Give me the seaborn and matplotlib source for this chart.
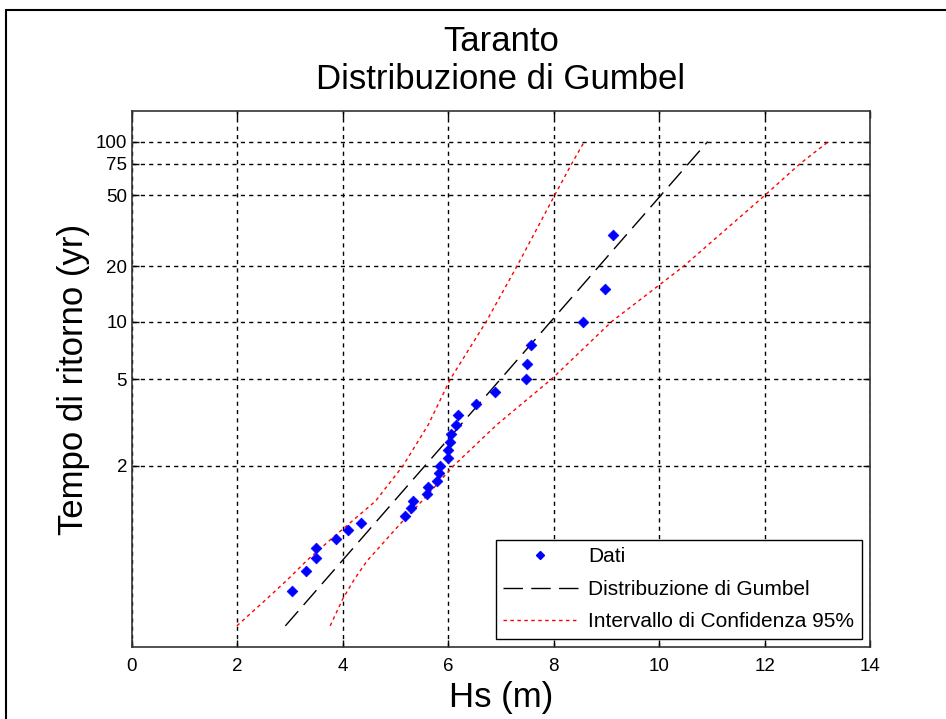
import numpy as np
import matplotlib
matplotlib.use("Agg")
import matplotlib.pyplot as plt
import seaborn as sns
from matplotlib.lines import Line2D
from matplotlib.ticker import FixedLocator, NullLocator

# observed maxima (Hs, m) and their return period (yr)
dati_hs = [9.13, 8.97, 8.55, 7.57, 7.50, 7.47, 6.89, 6.53, 6.18, 6.14,
           6.05, 6.04, 5.99, 5.99, 5.85, 5.82, 5.79, 5.61, 5.59, 5.34,
           5.29, 5.17, 4.35, 4.09, 3.87, 3.49, 3.49, 3.31, 3.03]
dati_T = [30, 15, 10, 7.5, 6, 5, 4.29, 3.75, 3.33, 3.0,
          2.73, 2.5, 2.31, 2.14, 2.0, 1.88, 1.76, 1.67, 1.58, 1.5,
          1.43, 1.36, 1.30, 1.25, 1.2, 1.15, 1.11, 1.07, 1.03]

# fitted Gumbel line (straight on the probability paper)
gumbel_T = [1.0037, 100]
gumbel_hs = [2.91, 10.92]

# 95% confidence band
ci_T = [1.0037, 1.02, 1.05, 1.1, 1.2, 1.3, 1.5, 2, 3, 5, 10, 20, 50, 75, 100]
ci_up_hs = [1.99, 2.56, 2.96, 3.31, 3.79, 4.13, 4.62, 5.14, 5.62, 6.04,
            6.72, 7.30, 8.02, 8.34, 8.58]
ci_lo_hs = [3.76, 4.00, 4.22, 4.46, 4.84, 5.10, 5.50, 6.10, 6.92, 7.96,
            9.10, 10.46, 12.01, 12.67, 13.21]

y_ticks = [2, 5, 10, 20, 50, 75, 100]
x_ticks = [0, 2, 4, 6, 8, 10, 12, 14]


def gumbel_fwd(T):
    T = np.asarray(T, dtype=float)
    with np.errstate(divide="ignore", invalid="ignore"):
        return -np.log(-np.log(1.0 - 1.0 / T))


def gumbel_inv(y):
    y = np.asarray(y, dtype=float)
    with np.errstate(divide="ignore", invalid="ignore", over="ignore"):
        return 1.0 / (1.0 - np.exp(-np.exp(-y)))


sns.set_style("white")
plt.rcParams["font.family"] = ["Liberation Sans", "DejaVu Sans"]
plt.rcParams["text.color"] = "black"
plt.rcParams["axes.labelcolor"] = "black"

fig = plt.figure(figsize=(9.46, 7.19), dpi=100)
ax = fig.add_axes([0.1395, 0.1001, 0.7802, 0.7455])

sns.scatterplot(x=dati_hs, y=dati_T, ax=ax, color="blue", marker="D", s=30,
                edgecolor="blue", linewidth=0.5, zorder=4, label="Dati")
sns.lineplot(x=gumbel_hs, y=gumbel_T, ax=ax, sort=False, estimator=None,
             color="black", lw=1.0, zorder=3,
             label="Distribuzione di Gumbel")
sns.lineplot(x=ci_up_hs, y=ci_T, ax=ax, sort=False, estimator=None,
             color="red", lw=1.0, zorder=3,
             label="Intervallo di Confidenza 95%")
sns.lineplot(x=ci_lo_hs, y=ci_T, ax=ax, sort=False, estimator=None,
             color="red", lw=1.0, zorder=3)

lines = ax.get_lines()
lines[0].set_dashes((14, 6))
lines[1].set_dashes((2.5, 2.5))
lines[2].set_dashes((2.5, 2.5))

ax.set_yscale("function", functions=(gumbel_fwd, gumbel_inv))
ax.set_ylim(gumbel_inv(-2.0), gumbel_inv(5.0))
ax.set_xlim(0, 14)
ax.yaxis.set_major_locator(FixedLocator(y_ticks))
ax.yaxis.set_minor_locator(NullLocator())
ax.set_yticklabels([str(t) for t in y_ticks])
ax.set_xticks(x_ticks)
ax.set_xticklabels([str(t) for t in x_ticks])

ax.grid(True, color="black", linestyle=(0, (3, 3)), linewidth=1.0)
ax.tick_params(direction="in", length=5, width=1, labelsize=13.5,
               colors="black", left=True, bottom=True, top=True, right=True)
ax.tick_params(axis="x", pad=8)
for sp in ax.spines.values():
    sp.set_color("#333333")
    sp.set_linewidth(1.2)

ax.set_xlabel("Hs (m)", fontsize=25, labelpad=4)
ax.set_ylabel("Tempo di ritorno (yr)", fontsize=25, labelpad=4)
ax.set_title("Taranto\nDistribuzione di Gumbel", fontsize=25, pad=16,
             linespacing=1.2)

leg_handles = [
    Line2D([], [], marker="D", color="blue", ls="none", markersize=4),
    Line2D([], [], color="black", lw=1.0, dashes=(14, 6)),
    Line2D([], [], color="red", lw=1.0, dashes=(2.5, 2.5)),
]
leg = ax.legend(leg_handles, ["Dati", "Distribuzione di Gumbel",
                              "Intervallo di Confidenza 95%"],
                loc="lower right", fontsize=15, frameon=True, fancybox=False,
                edgecolor="black", handlelength=3.6, borderaxespad=0.4,
                labelspacing=0.65, handletextpad=0.5, borderpad=0.35,
                framealpha=1)
leg.get_frame().set_linewidth(1.0)

# outer frame of the figure window
fig.add_artist(Line2D([6 / 946, 6 / 946], [0, 1 - 10 / 719],
                      transform=fig.transFigure, color="black", lw=1.5))
fig.add_artist(Line2D([6 / 946, 1], [1 - 10 / 719, 1 - 10 / 719],
                      transform=fig.transFigure, color="black", lw=1.5))

fig.savefig("out.png", dpi=100)
